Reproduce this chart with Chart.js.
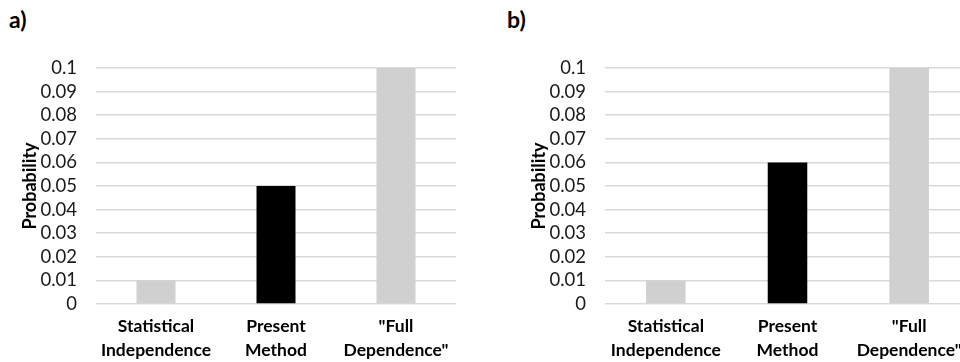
<!DOCTYPE html>
<html lang="en">
<head>
<meta charset="UTF-8">
<title>Probability comparison</title>
<script src="https://cdn.jsdelivr.net/npm/chart.js"></script>
<style>
  * { margin: 0; padding: 0; box-sizing: border-box; }
  body { width: 960px; height: 362px; overflow: hidden; background: #fff; position: relative; font-family: Lato, 'Open Sans', sans-serif; }
  .panel { position: absolute; top: 0; height: 362px; }
  .tag { position: absolute; top: 5px; font: bold 23px Lato, sans-serif; color: #000; }
</style>
</head>
<body>
  <div class="tag" style="left: 9px;">a)</div>
  <div class="tag" style="left: 507px;">b)</div>
  <div class="panel" style="left: 0; width: 470px;"><canvas id="chartA" width="470" height="362"></canvas></div>
  <div class="panel" style="left: 509px; width: 470px;"><canvas id="chartB" width="470" height="362"></canvas></div>

<script>
  const categories = [['Statistical', 'Independence'], ['Present', 'Method'], ['"Full', 'Dependence"']];
  const valuesA = [0.01, 0.05, 0.1];
  const valuesB = [0.01, 0.06, 0.1];
  const barColors = ['#d0d0d0', '#000000', '#d0d0d0'];
  const yTicks = [0, 0.01, 0.02, 0.03, 0.04, 0.05, 0.06, 0.07, 0.08, 0.09, 0.1];

  function makeChart(id, values, padRight) {
    const ctx = document.getElementById(id).getContext('2d');
    return new Chart(ctx, {
      type: 'bar',
      data: {
        labels: categories,
        datasets: [{
          data: values,
          backgroundColor: barColors,
          borderWidth: 0,
          categoryPercentage: 1,
          barPercentage: 0.325
        }]
      },
      options: {
        responsive: false,
        animation: false,
        layout: { padding: { top: 68, right: padRight, bottom: 0, left: 0 } },
        plugins: { legend: { display: false }, tooltip: { enabled: false } },
        scales: {
          x: {
            grid: { display: false, drawTicks: false },
            border: { display: false },
            ticks: {
              color: '#000',
              padding: 10,
              maxRotation: 0,
              autoSkip: false,
              font: { family: 'Lato', size: 17.5, weight: 'bold', lineHeight: 1.37 }
            },
            afterFit: s => { s.height = 58; }
          },
          y: {
            min: 0,
            max: 0.1,
            afterBuildTicks: s => { s.ticks = yTicks.map(v => ({ value: v })); },
            grid: { color: '#d9d9d9', lineWidth: 1.5, drawTicks: false },
            border: { display: false },
            ticks: {
              color: '#1a1a1a',
              padding: 19,
              autoSkip: false,
              callback: v => String(v),
              font: { family: 'Lato', size: 18.5 }
            },
            title: {
              display: true,
              text: 'Probability',
              color: '#000',
              padding: { top: 19, bottom: 0 },
              font: { family: 'Lato', size: 18, weight: 'bold' }
            },
            afterFit: s => { s.width = 96; }
          }
        }
      }
    });
  }

  makeChart('chartA', valuesA, 14);
  makeChart('chartB', valuesB, 9);
</script>
</body>
</html>
